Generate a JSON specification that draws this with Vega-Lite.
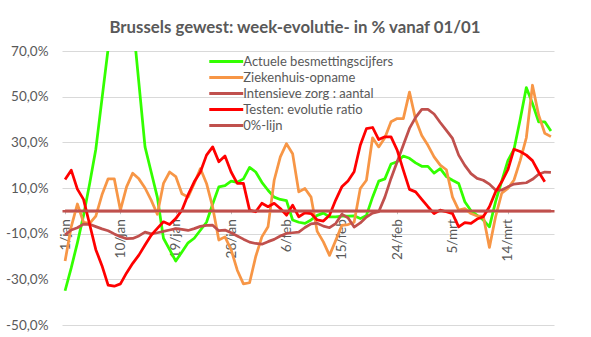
{
"$schema": "https://vega.github.io/schema/vega-lite/v6.json",
"width": 492, "height": 274,
"autosize": {"type": "none"},
"padding": {"left": 62, "top": 51, "right": 37, "bottom": 12},
"background": "white",
"config": {"view": {"stroke": null}, "font": "Lato"},
"title": {"text": "Brussels gewest: week-evolutie- in %  vanaf 01/01", "fontSize": 16.8, "fontWeight": "bold", "color": "#595959", "font": "Lato", "anchor": "middle", "dx": -13, "offset": 7},
"data": {"values": [
{"dag":"1/jan","A":-35,"Z":-22,"I":-10.5,"T":13.7,"N":0},
{"dag":"2/jan","A":-25,"Z":-7,"I":-8.4,"T":17.8,"N":0},
{"dag":"3/jan","A":-14,"Z":3,"I":-7.4,"T":9.5,"N":0},
{"dag":"4/jan","A":-2,"Z":-5,"I":-5.8,"T":5,"N":0},
{"dag":"5/jan","A":12,"Z":-5.5,"I":-5.9,"T":-6,"N":0},
{"dag":"6/jan","A":27,"Z":-2.3,"I":-6.9,"T":-17,"N":0},
{"dag":"7/jan","A":49,"Z":7,"I":-7.9,"T":-24,"N":0},
{"dag":"8/jan","A":71,"Z":14,"I":-8.7,"T":-32.5,"N":0},
{"dag":"9/jan","A":92,"Z":14,"I":-10.1,"T":-33,"N":0},
{"dag":"10/jan","A":104,"Z":0.3,"I":-11.3,"T":-32,"N":0},
{"dag":"11/jan","A":100,"Z":10.5,"I":-12.2,"T":-27.2,"N":0},
{"dag":"12/jan","A":84,"Z":16.5,"I":-12.1,"T":-23,"N":0},
{"dag":"13/jan","A":56,"Z":14,"I":-11,"T":-19.4,"N":0},
{"dag":"14/jan","A":28,"Z":10,"I":-9.3,"T":-15,"N":0},
{"dag":"15/jan","A":17,"Z":4.7,"I":-10.1,"T":-10.7,"N":0},
{"dag":"16/jan","A":6,"Z":-1.5,"I":-9.6,"T":-7.7,"N":0},
{"dag":"17/jan","A":-12,"Z":12,"I":-9,"T":-4.8,"N":0},
{"dag":"18/jan","A":-17,"Z":17,"I":-8.4,"T":-6,"N":0},
{"dag":"19/jan","A":-22,"Z":15,"I":-7.8,"T":-3.4,"N":0},
{"dag":"20/jan","A":-18,"Z":7.5,"I":-8.1,"T":0.3,"N":0},
{"dag":"21/jan","A":-14,"Z":6,"I":-8.6,"T":7,"N":0},
{"dag":"22/jan","A":-12,"Z":12,"I":-7.8,"T":12.7,"N":0},
{"dag":"23/jan","A":-8.5,"Z":18.5,"I":-6.8,"T":17,"N":0},
{"dag":"24/jan","A":-5,"Z":12,"I":-6.4,"T":24.4,"N":0},
{"dag":"25/jan","A":3,"Z":1.6,"I":-6.3,"T":28,"N":0},
{"dag":"26/jan","A":10.5,"Z":-12.8,"I":-8.7,"T":21.5,"N":0},
{"dag":"27/jan","A":11,"Z":-11.4,"I":-8.4,"T":24,"N":0},
{"dag":"28/jan","A":13,"Z":-17,"I":-9.6,"T":17,"N":0},
{"dag":"29/jan","A":12.5,"Z":-26,"I":-11,"T":12,"N":0},
{"dag":"30/jan","A":14,"Z":-32,"I":-12.4,"T":12,"N":0},
{"dag":"31/jan","A":19,"Z":-31.5,"I":-13.7,"T":0.3,"N":0},
{"dag":"1/feb","A":17,"Z":-20,"I":-14.3,"T":-0.4,"N":0},
{"dag":"2/feb","A":12.5,"Z":-11.4,"I":-14.6,"T":3.3,"N":0},
{"dag":"3/feb","A":9,"Z":-7,"I":-13.5,"T":1.8,"N":0},
{"dag":"4/feb","A":6,"Z":13.4,"I":-12.5,"T":3.3,"N":0},
{"dag":"5/feb","A":5,"Z":23.6,"I":-11,"T":1,"N":0},
{"dag":"6/feb","A":4.5,"Z":29.4,"I":-9.9,"T":-1.9,"N":0},
{"dag":"7/feb","A":-4,"Z":25,"I":-9.6,"T":2.5,"N":0},
{"dag":"8/feb","A":-5,"Z":8.3,"I":-9.3,"T":-2.6,"N":0},
{"dag":"9/feb","A":-5.5,"Z":9.8,"I":-7.3,"T":-0.9,"N":0},
{"dag":"10/feb","A":-4,"Z":6,"I":-5.7,"T":-1.2,"N":0},
{"dag":"11/feb","A":-2,"Z":-9,"I":-5.4,"T":-4,"N":0},
{"dag":"12/feb","A":-1,"Z":-13.6,"I":-6.7,"T":-4.5,"N":0},
{"dag":"13/feb","A":-2.6,"Z":-19.5,"I":-7.4,"T":-1.9,"N":0},
{"dag":"14/feb","A":-2.6,"Z":-13,"I":-5.6,"T":4.7,"N":0},
{"dag":"15/feb","A":-2.3,"Z":-6.4,"I":-1.5,"T":10.5,"N":0},
{"dag":"16/feb","A":-2.3,"Z":-6,"I":-3,"T":13.1,"N":0},
{"dag":"17/feb","A":-2.2,"Z":-5,"I":-7.1,"T":17.1,"N":0},
{"dag":"18/feb","A":-3.4,"Z":9.8,"I":-5.3,"T":28.7,"N":0},
{"dag":"19/feb","A":-2,"Z":13.4,"I":-2.7,"T":36,"N":0},
{"dag":"20/feb","A":6,"Z":32,"I":-1,"T":36.5,"N":0},
{"dag":"21/feb","A":13,"Z":28,"I":-0.4,"T":31.2,"N":0},
{"dag":"22/feb","A":14,"Z":32,"I":6,"T":32.4,"N":0},
{"dag":"23/feb","A":20.5,"Z":39,"I":14.2,"T":32.4,"N":0},
{"dag":"24/feb","A":21.5,"Z":40.4,"I":21.5,"T":26.6,"N":0},
{"dag":"25/feb","A":24,"Z":40.4,"I":28.8,"T":17.8,"N":0},
{"dag":"26/feb","A":23,"Z":52,"I":36.1,"T":9.4,"N":0},
{"dag":"27/feb","A":21,"Z":40,"I":40.9,"T":8.3,"N":0},
{"dag":"28/feb","A":19.5,"Z":33,"I":44.4,"T":5,"N":0},
{"dag":"1/mrt","A":19.5,"Z":28.7,"I":44.4,"T":1.8,"N":0},
{"dag":"2/mrt","A":16.5,"Z":23.6,"I":42.4,"T":-1.2,"N":0},
{"dag":"3/mrt","A":18.5,"Z":20,"I":38.7,"T":0.3,"N":0},
{"dag":"4/mrt","A":15,"Z":18,"I":35.2,"T":-0.4,"N":0},
{"dag":"5/mrt","A":13.4,"Z":6,"I":31.7,"T":-1.2,"N":0},
{"dag":"6/mrt","A":12,"Z":0.3,"I":24.4,"T":-7,"N":0},
{"dag":"7/mrt","A":4,"Z":1,"I":19.9,"T":-5.2,"N":0},
{"dag":"8/mrt","A":0,"Z":-1.2,"I":16.3,"T":-5.5,"N":0},
{"dag":"9/mrt","A":-2,"Z":-2.3,"I":14.2,"T":-3.6,"N":0},
{"dag":"10/mrt","A":-4,"Z":-2.3,"I":13.4,"T":-2.6,"N":0},
{"dag":"11/mrt","A":-7,"Z":-16,"I":11.7,"T":1.8,"N":0},
{"dag":"12/mrt","A":4,"Z":-2.6,"I":9.1,"T":8.3,"N":0},
{"dag":"13/mrt","A":13,"Z":7.7,"I":9.1,"T":12.7,"N":0},
{"dag":"14/mrt","A":22,"Z":9.8,"I":10.5,"T":18,"N":0},
{"dag":"15/mrt","A":27,"Z":13.5,"I":11.7,"T":27,"N":0},
{"dag":"16/mrt","A":40,"Z":22,"I":12,"T":26,"N":0},
{"dag":"17/mrt","A":54,"Z":32,"I":12.3,"T":24.4,"N":0},
{"dag":"18/mrt","A":47,"Z":55,"I":13.8,"T":22,"N":0},
{"dag":"19/mrt","A":39,"Z":42,"I":16,"T":17,"N":0},
{"dag":"20/mrt","A":39,"Z":34,"I":17,"T":12.7,"N":0},
{"dag":"21/mrt","A":35,"Z":32.5,"I":16.8,"N":0}
]},
"transform": [{"fold": ["A", "Z", "I", "T", "N"], "as": ["reeks", "waarde"]}],
"mark": {"type": "line", "clip": true, "strokeWidth": 2.75, "strokeJoin": "round"},
"encoding": {
  "x": {"field": "dag", "type": "ordinal", "sort": null, "scale": {"type": "point", "padding": 0.5},
    "axis": {"values": ["1/jan","10/jan","19/jan","28/jan","6/feb","15/feb","24/feb","5/mrt","14/mrt"], "labelAngle": -90, "title": null, "offset": -114.3, "domainColor": "#C0504D", "domainWidth": 2.5, "ticks": true, "tickSize": 3, "tickColor": "#BFBFBF", "labelPadding": 5, "labelFont": "Lato", "labelFontSize": 13.5, "labelColor": "#595959", "grid": false}},
  "y": {"field": "waarde", "type": "quantitative", "scale": {"domain": [-50, 70], "nice": false, "zero": false},
    "axis": {"values": [-50,-30,-10,10,30,50,70], "title": null, "domain": false, "ticks": false, "tickSize": 0, "labelPadding": 14, "grid": true, "gridColor": "#D9D9D9", "gridWidth": 1, "labelFont": "Lato", "labelFontSize": 13.5, "labelColor": "#595959", "labelExpr": "replace(replace(format(datum.value, '.1f'), '.', ','), '\u2212', '-') + '%'"}},
  "color": {"field": "reeks", "type": "nominal",
    "scale": {"domain": ["A","Z","I","T","N"], "range": ["#33FF00","#F79646","#C0504D","#FF0000","#C0504D"]},
    "legend": {"orient": "none", "legendX": 145, "legendY": 4, "title": null, "symbolType": "M-4,0H4", "symbolSize": 72, "symbolStrokeWidth": 3, "symbolOffset": 12.75, "labelOffset": 10.5, "labelLimit": 400, "rowPadding": 2, "labelFont": "Lato", "labelFontSize": 13, "labelColor": "#595959",
      "labelExpr": "datum.label == 'A' ? 'Actuele besmettingscijfers' : datum.label == 'Z' ? 'Ziekenhuis-opname' : datum.label == 'I' ? 'Intensieve zorg : aantal' : datum.label == 'T' ? 'Testen: evolutie ratio' : '0%-lijn'"}}
}
}
